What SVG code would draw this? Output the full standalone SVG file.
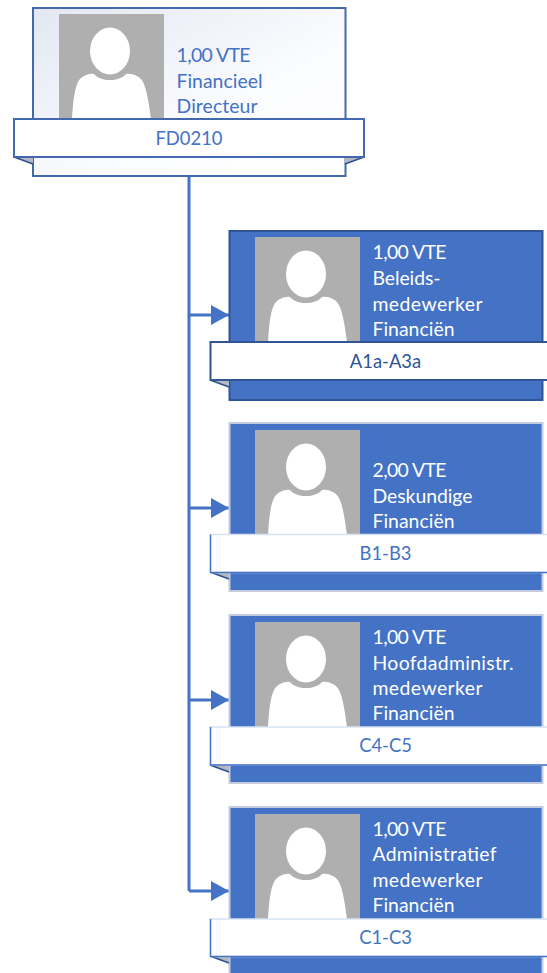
<svg xmlns="http://www.w3.org/2000/svg" width="547" height="973" viewBox="0 0 547 973">
<style>
text{font-family:"Lato","Carlito","Liberation Sans",sans-serif;font-size:19.4px}
.w{fill:#fff}.b{fill:#4472c4}.d{fill:#2f5597}
.c{text-anchor:middle;font-size:18.4px}
.card{fill:#4472c4;stroke:#c3cbdc;stroke-width:2}
.ban{fill:#fff;stroke:#d9e2f3;stroke-width:1.5}
.fold{fill:#b4b8c0}
.edge{fill:none;stroke:#2f4f8f;stroke-width:1.5}
.conn{fill:none;stroke:#4472c4;stroke-width:3}
</style>
<defs>
<linearGradient id="g" x1="0" y1="0" x2="1" y2="1"><stop offset="0" stop-color="#e2e7f3"/><stop offset="0.6" stop-color="#fbfcfe"/><stop offset="1" stop-color="#fff"/></linearGradient>
<marker id="a" markerUnits="userSpaceOnUse" markerWidth="18" markerHeight="20" refX="18" refY="10" orient="auto"><path d="M0 0L18 10L0 20Z" fill="#4472c4"/></marker>
<g id="photo">
<rect width="105" height="105" fill="#afafaf"/>
<ellipse cx="51" cy="37" rx="20" ry="23.500" fill="#fff"/>
<path d="M13 105C14 90 15 76 19 68C22 62 30 59 35 60C42 68 60 68 67 60C73 59 81 62 84 68C88 76 90 90 92 105Z" fill="#fff"/>
</g>
</defs>
<g id="connectors">
<path class="conn" d="M189 176V891"/>
<path class="conn" d="M189 315H229" marker-end="url(#a)"/>
<path class="conn" d="M189 508H229" marker-end="url(#a)"/>
<path class="conn" d="M189 700H229" marker-end="url(#a)"/>
<path class="conn" d="M189 891H229" marker-end="url(#a)"/>
</g>
<g id="node-fd0210">
<rect x="33" y="8" width="312.500" height="168" fill="url(#g)" stroke="#4268b0" stroke-width="2"/>
<use href="#photo" x="59" y="14"/>
<text class="b" x="176.500" y="62" textLength="74">1,00 VTE</text>
<text class="b" x="176.500" y="88" textLength="86">Financieel</text>
<text class="b" x="176.500" y="113" textLength="81">Directeur</text>
<path class="fold" d="M14 157L33 164V157ZM364 157L345 164V157Z"/>
<path d="M14 157L33 164M364 157L345 164" fill="none" stroke="#2f4f8f" stroke-width="1.500"/>
<rect x="14" y="119" width="350" height="38" fill="#fff" stroke="#4268b0" stroke-width="2"/>
<text class="b c" x="189" y="145">FD0210</text>
</g>
<g id="node-a1a-a3a">
<rect x="229.500" y="231" width="313" height="169" fill="#4472c4" stroke="#2f5597" stroke-width="2"/>
<use href="#photo" x="255" y="237"/>
<text class="w" x="372.500" y="259" textLength="74">1,00 VTE</text>
<text class="w" x="372.500" y="285" textLength="68">Beleids-</text>
<text class="w" x="372.500" y="311" textLength="110">medewerker</text>
<text class="w" x="372.500" y="336" textLength="82">Financiën</text>
<path class="fold" d="M210 380L229 387V380Z"/>
<path class="edge" d="M210 380L229 387"/>
<rect x="210.500" y="342" width="340" height="38" fill="#fff" stroke="#2f5597" stroke-width="2"/>
<text class="d c" x="385.500" y="368">A1a-A3a</text>
</g>
<g id="node-b1-b3">
<rect class="card" x="229.500" y="423" width="313" height="168"/>
<use href="#photo" x="255" y="430"/>
<text class="w" x="372.500" y="477" textLength="74">2,00 VTE</text>
<text class="w" x="372.500" y="503" textLength="100">Deskundige</text>
<text class="w" x="372.500" y="528" textLength="82">Financiën</text>
<path class="fold" d="M210 572L229 579V572Z"/>
<path class="edge" d="M210 572L229 579"/>
<rect class="ban" x="210.500" y="534.500" width="340" height="38"/>
<path d="M210.500 534.500V572.500H547" fill="none" stroke="#4472c4" stroke-width="1.500"/>
<text class="b c" x="385.500" y="560">B1-B3</text>
</g>
<g id="node-c4-c5">
<rect class="card" x="229.500" y="615" width="313" height="168"/>
<use href="#photo" x="255" y="622"/>
<text class="w" x="372.500" y="644" textLength="74">1,00 VTE</text>
<text class="w" x="372.500" y="670" textLength="141">Hoofdadministr.</text>
<text class="w" x="372.500" y="695" textLength="110">medewerker</text>
<text class="w" x="372.500" y="720" textLength="82">Financiën</text>
<path class="fold" d="M210 765L229 772V765Z"/>
<path class="edge" d="M210 765L229 772"/>
<rect class="ban" x="210.500" y="727" width="340" height="38"/>
<path d="M210.500 727V765H547" fill="none" stroke="#4472c4" stroke-width="1.500"/>
<text class="b c" x="385.500" y="752">C4-C5</text>
</g>
<g id="node-c1-c3">
<rect class="card" x="229.500" y="807" width="313" height="170"/>
<use href="#photo" x="255" y="814"/>
<text class="w" x="372.500" y="836" textLength="74">1,00 VTE</text>
<text class="w" x="372.500" y="861" textLength="124">Administratief</text>
<text class="w" x="372.500" y="887" textLength="110">medewerker</text>
<text class="w" x="372.500" y="912" textLength="82">Financiën</text>
<path class="fold" d="M210 956L229 963V956Z"/>
<path class="edge" d="M210 956L229 963"/>
<rect class="ban" x="210.500" y="919" width="340" height="37.500"/>
<path d="M210.500 919V956.500H547" fill="none" stroke="#4472c4" stroke-width="1.500"/>
<text class="b c" x="385.500" y="944">C1-C3</text>
</g>
</svg>
